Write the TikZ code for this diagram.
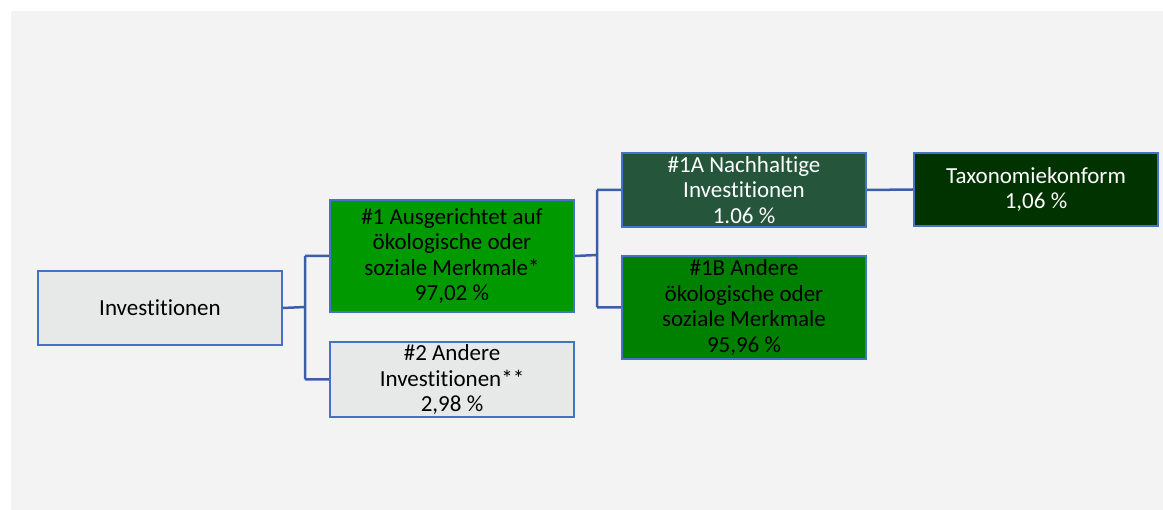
\documentclass[tikz,border=0pt]{standalone}
\usepackage{fontspec}
\setmainfont{Carlito}[Ligatures={NoCommon}]
\definecolor{panel}{RGB}{243,243,243}
\definecolor{boxline}{RGB}{68,114,196}
\definecolor{conline}{RGB}{59,94,168}
\definecolor{lightfill}{RGB}{231,233,232}
\definecolor{greenA}{RGB}{0,153,0}
\definecolor{greenB}{RGB}{0,128,0}
\definecolor{greenC}{RGB}{37,85,58}
\definecolor{greenD}{RGB}{0,51,0}
\tikzset{
  box/.style={draw=boxline, line width=2pt, minimum width=244pt, align=center,
    font=\fontsize{23}{25.5}\selectfont, inner sep=0pt, anchor=north west},
  conn/.style={draw=conline, line width=2.5pt}
}
\begin{document}
\begin{tikzpicture}[x=1pt,y=-1pt]
\useasboundingbox (0,0) rectangle (1163,510);
\fill[white] (0,0) rectangle (1163,510);
\fill[panel] (11,11) rectangle (1163,510);
\node[box, fill=lightfill, text=black, minimum height=74pt] (inv) at (37,270) {Investitionen};
\node[box, fill=greenA, text=black, minimum height=112pt] (n1) at (329,199) {\#1 Ausgerichtet auf\\ökologische oder\\soziale Merkmale*\\97,02 \%};
\node[box, fill=lightfill, text=black, minimum height=75pt] (n2) at (329,341) {\#2 Andere\\Investitionen**\\2,98 \%};
\node[box, fill=greenC, text=white, minimum height=74pt] (n1a) at (621,152) {\#1A Nachhaltige\\Investitionen\\1.06 \%};
\node[box, fill=greenB, text=black, minimum height=103pt] (n1b) at (621,255) {\#1B Andere\\ökologische oder\\soziale Merkmale\\95,96 \%};
\node[box, fill=greenD, text=white, minimum height=73pt] (tax) at (913,152) {Taxonomiekonform\\1,06 \%};
\coordinate (b1) at (305,307);
\coordinate (b2) at (597,255);
\draw[conn] (inv.east) -- (b1) (b1 |- n1.west) -- (n1.west) (b1 |- n2.west) -- (n2.west) (b1 |- n1.west) -- (b1 |- n2.west);
\draw[conn] (n1.east) -- (b2) (b2 |- n1a.west) -- (n1a.west) (b2 |- n1b.west) -- (n1b.west) (b2 |- n1a.west) -- (b2 |- n1b.west);
\draw[conn] (n1a.east) -- (tax.west);
\end{tikzpicture}
\end{document}
